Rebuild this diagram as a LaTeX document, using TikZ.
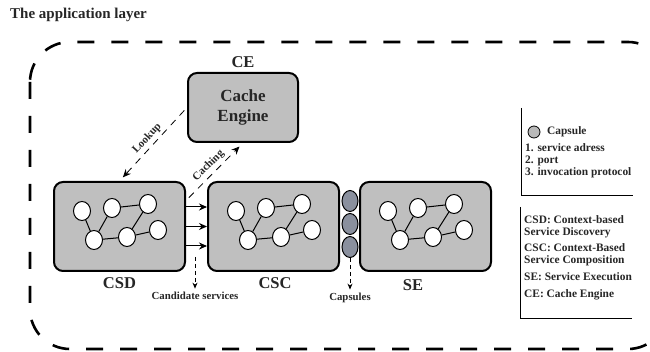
\documentclass[tikz,border=0pt]{standalone}
\usepackage{fontspec}
\setmainfont{Liberation Serif}
\usetikzlibrary{shapes,arrows.meta}

\definecolor{boxgray}{HTML}{BFBFBF}
\definecolor{capgray}{HTML}{8A909E}
\definecolor{ink}{HTML}{262626}

\begin{document}
\begin{tikzpicture}[x=1pt,y=-1pt,>={Stealth[length=8pt,width=7pt]}]
\tikzstyle{layerline}=[line width=2.6pt,dash pattern=on 17pt off 17pt]
\tikzstyle{module}=[rectangle,rounded corners=9pt,draw,line width=2pt,fill=boxgray,minimum width=131pt,minimum height=89pt]
\tikzstyle{svc}=[ellipse,draw,line width=1pt,fill=white,minimum width=17pt,minimum height=19pt,inner sep=0pt]
\tikzstyle{capsule}=[ellipse,draw,line width=1pt,fill=capgray,minimum width=16pt,minimum height=21pt,inner sep=0pt]
\tikzstyle{modlabel}=[font=\fontsize{16.5}{18}\selectfont\bfseries,text=ink]
\tikzstyle{legendtext}=[font=\fontsize{11.4}{12}\selectfont\bfseries,text=ink,align=left,anchor=west,inner sep=0pt]
\tikzstyle{flow}=[->,line width=0.8pt,dash pattern=on 7pt off 6pt,shorten <=4pt,shorten >=5pt]
\tikzstyle{flowlabel}=[sloped,above=3pt,inner sep=0pt,font=\fontsize{11}{12}\selectfont\bfseries,text=ink]
\tikzstyle{downflow}=[-{Stealth[length=6pt,width=5pt]},line width=0.8pt,dash pattern=on 4pt off 3pt]

\clip (0,0) rectangle (650,352);

\node[font=\fontsize{15}{18}\selectfont\bfseries,text=ink,anchor=west,inner sep=0pt] (title) at (10,15) {The application layer};

% the dashed layer border
\draw[layerline,rounded corners=40pt] (30,42) rectangle (668,349);

% cache engine
\node[modlabel] (CElbl) at (243,62) {CE};
\node[module,minimum width=110pt,minimum height=69pt,font=\fontsize{17}{20}\selectfont\bfseries,text=ink,align=center] (CE) at (243,107.5) {Cache\\Engine};

% the three modules
\node[module] (CSD) at (119.5,226.5) {};
\node[module] (CSC) at (273.5,226.5) {};
\node[module] (SE) at (425.5,226.5) {};
\node[modlabel] (CSDlbl) at (119.5,283) {CSD};
\node[modlabel] (CSClbl) at (275,283) {CSC};
\node[modlabel] (SElbl) at (413,285) {SE};

% services inside each module
\foreach \m in {CSD,CSC,SE}{
\begin{scope}[shift={(\m.north west)}]
\node[svc] (\m-1) at (29,30) {};
\node[svc] (\m-2) at (59,27) {};
\node[svc] (\m-3) at (95,23) {};
\node[svc] (\m-4) at (41,59) {};
\node[svc] (\m-5) at (74,56) {};
\node[svc] (\m-6) at (105,49) {};
\draw[line width=1pt] (\m-1) -- (\m-4) (\m-4) -- (\m-2) (\m-2) -- (\m-3)
  (\m-3) -- (\m-5) (\m-4) -- (\m-5) (\m-5) -- (\m-6);
\end{scope}
}

% capsules
\foreach \i/\y in {1/201,2/224,3/247}
  \node[capsule] (cap\i) at (350,\y) {};

\foreach \s in {19.5,0,-19.5}
  \draw[->,line width=1pt] ([yshift=\s pt]CSD.east) -- ([yshift=\s pt]CSC.west);

\draw[flow] (CE.west) -- node[flowlabel] {Lookup} (CSD.north);
\draw[flow] ([yshift=26pt]CSD.east) -- node[flowlabel] {Caching} (CE.south);

\node[font=\fontsize{10.8}{12}\selectfont\bfseries,text=ink] (cand) at (195,296) {Candidate services};
\coordinate (candtop) at (195,257);
\draw[downflow] (candtop) -- (cand);

\node[font=\fontsize{10.8}{12}\selectfont\bfseries,text=ink] (capsules) at (350,298) {Capsules};
\draw[downflow] (cap3) -- (capsules);

% legend
\draw[line width=0.8pt] (521,108) |- (633,195);
\draw[line width=0.8pt] (520,207) |- (632,318);
\node[draw,circle,line width=0.8pt,fill=gray!55,minimum size=12pt,inner sep=0pt] (lgcap) at (534,132) {};
\node[legendtext] (lgcapsule) at (547,132) {Capsule};
\node[legendtext] (lgitems) at (525,161) {1. service adress\\2. port\\3. invocation protocol};
\node[legendtext] (lgCSD) at (524,227) {CSD: Context-based\\Service Discovery};
\node[legendtext] (lgCSC) at (524,255) {CSC: Context-Based\\Service Composition};
\node[legendtext] (lgSE) at (524,277) {SE: Service Execution};
\node[legendtext] (lgCE) at (524,295) {CE: Cache Engine};
\end{tikzpicture}
\end{document}
